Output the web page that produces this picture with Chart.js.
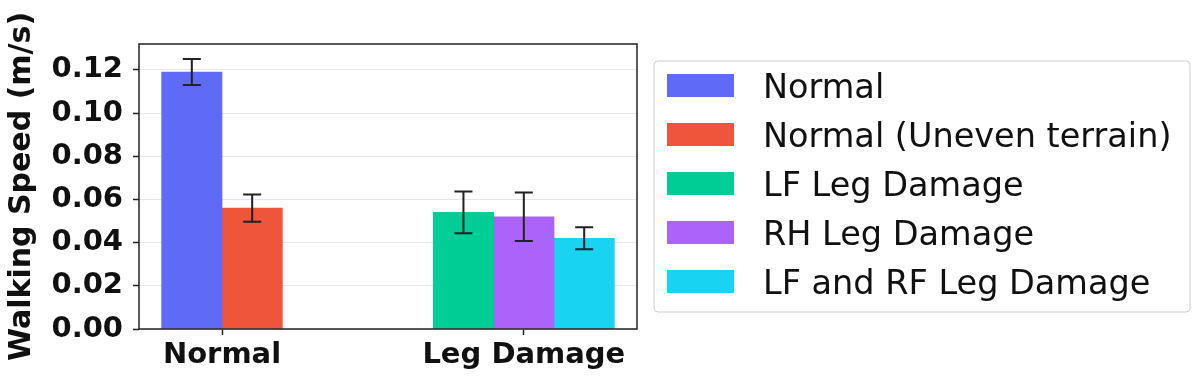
<!DOCTYPE html>
<html><head><meta charset="utf-8">
<script src="https://cdn.jsdelivr.net/npm/chart.js@4"></script>
<style>html,body{margin:0;padding:0;background:#fff;} #wrap{width:1199px;height:384px;position:relative;}</style>
</head><body><div id="wrap"><canvas id="c" width="1199" height="384"></canvas></div>
<script>
const categories = ['Normal', 'Leg Damage'];
const seriesNames = ['Normal', 'Normal (Uneven terrain)', 'LF Leg Damage', 'RH Leg Damage', 'LF and RF Leg Damage'];
const seriesCategory = [0, 0, 1, 1, 1];
const seriesMeans = [0.119, 0.056, 0.054, 0.052, 0.042];
const seriesErrors = [0.006, 0.0063, 0.0097, 0.0112, 0.0051];
const seriesColors = ['#5F6AF7', '#EF553B', '#00CC96', '#AB63FA', '#19D3F3'];
const yTicks = [0, 0.02, 0.04, 0.06, 0.08, 0.10, 0.12];
const yMax = 0.132;
const yTitle = 'Walking Speed (m/s)';

const BAR_W = 0.2;
function groupX(i) {
  const cat = seriesCategory[i];
  const members = [];
  seriesCategory.forEach((c, k) => { if (c === cat) members.push(k); });
  const j = members.indexOf(i);
  return cat + (j - (members.length - 1) / 2) * BAR_W;
}
const xs = seriesNames.map((_, i) => groupX(i));
const lo = Math.min(...xs) - BAR_W / 2, hi = Math.max(...xs) + BAR_W / 2;
const marg = 0.05 * (hi - lo);

const FONT = '"DejaVu Sans", "Liberation Sans", sans-serif';

const datasets = seriesNames.map((name, i) => ({
  label: name,
  data: [{ x: xs[i], y: seriesMeans[i] }],
  err: seriesErrors[i],
  backgroundColor: seriesColors[i],
  borderWidth: 0,
  grouped: false,
  categoryPercentage: 1,
  barPercentage: 1
}));

const framePlugin = {
  id: 'frame',
  afterDatasetsDraw(chart) {
    const { ctx, chartArea: a, scales } = chart;
    ctx.save();
    ctx.strokeStyle = '#222';
    ctx.lineWidth = 2;
    chart.data.datasets.forEach((ds, di) => {
      const meta = chart.getDatasetMeta(di);
      meta.data.forEach((el, k) => {
        const v = ds.data[k].y;
        const yT = scales.y.getPixelForValue(v + ds.err);
        const yB = scales.y.getPixelForValue(v - ds.err);
        const x = el.x;
        ctx.beginPath();
        ctx.moveTo(x, yT); ctx.lineTo(x, yB);
        ctx.moveTo(x - 9, yT); ctx.lineTo(x + 9, yT);
        ctx.moveTo(x - 9, yB); ctx.lineTo(x + 9, yB);
        ctx.stroke();
      });
    });
    ctx.restore();
    ctx.save();
    ctx.strokeStyle = '#222';
    ctx.lineWidth = 1.5;
    ctx.strokeRect(a.left, a.top, a.right - a.left, a.bottom - a.top);
    ctx.restore();
  },
  afterDraw(chart) {
    const ctx = chart.ctx;
    ctx.save();
    const L = 654, T = 61, R = 1190, B = 312, r = 4;
    ctx.beginPath();
    ctx.moveTo(L + r, T);
    ctx.arcTo(R, T, R, B, r);
    ctx.arcTo(R, B, L, B, r);
    ctx.arcTo(L, B, L, T, r);
    ctx.arcTo(L, T, R, T, r);
    ctx.closePath();
    ctx.fillStyle = 'rgba(255,255,255,0.9)';
    ctx.fill();
    ctx.strokeStyle = '#cccccc';
    ctx.lineWidth = 1;
    ctx.stroke();
    ctx.font = '33.5px ' + FONT;
    ctx.textBaseline = 'alphabetic';
    ctx.textAlign = 'left';
    chart.data.datasets.forEach((ds, i) => {
      const cy = 85.5 + i * 49;
      ctx.fillStyle = ds.backgroundColor;
      ctx.fillRect(667, cy - 11.5, 67, 23);
      ctx.fillStyle = '#111';
      ctx.fillText(ds.label, 763, cy + 12);
    });
    ctx.restore();
  }
};

new Chart(document.getElementById('c'), {
  type: 'bar',
  data: { datasets },
  options: {
    responsive: false,
    animation: false,
    devicePixelRatio: 1,
    layout: { padding: { top: 44, right: 562, bottom: 0, left: 0 } },
    plugins: { legend: { display: false }, tooltip: { enabled: false } },
    scales: {
      x: {
        type: 'linear',
        offset: false,
        min: lo - marg,
        max: hi + marg,
        afterBuildTicks: (s) => { s.ticks = categories.map((_, i) => ({ value: i })); },
        afterFit: (s) => { s.height = 55; },
        ticks: {
          callback: (v) => categories[Math.round(v)],
          color: '#111',
          padding: 3,
          maxRotation: 0,
          autoSkip: false,
          font: { family: FONT, size: 29, weight: 'bold' }
        },
        grid: { offset: false, drawOnChartArea: false, tickColor: '#222', tickLength: 6, tickWidth: 1.5 },
        border: { display: false }
      },
      y: {
        min: 0,
        max: yMax,
        afterBuildTicks: (s) => { s.ticks = yTicks.map(v => ({ value: v })); },
        afterFit: (s) => { s.width = 139; },
        ticks: {
          callback: (v) => v.toFixed(2),
          color: '#111',
          padding: 10,
          font: { family: FONT, size: 29, weight: 'bold' }
        },
        grid: { color: '#e6e6e6', lineWidth: 1, tickColor: '#222', tickLength: 6, tickWidth: 1.5 },
        border: { display: false },
        title: {
          display: true,
          text: yTitle,
          color: '#111',
          padding: { top: 4, bottom: 0 },
          font: { family: FONT, size: 30, weight: 'bold' }
        }
      }
    }
  },
  plugins: [framePlugin]
});
</script>
</body></html>
